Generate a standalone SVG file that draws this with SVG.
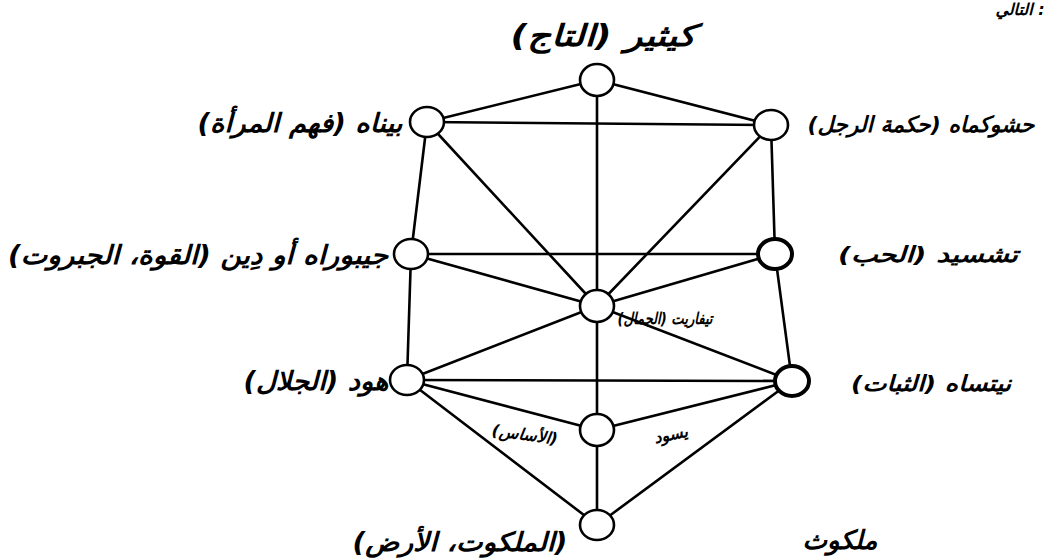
<svg xmlns="http://www.w3.org/2000/svg" width="1063" height="560" viewBox="0 0 1063 560">
<style>
.edge{stroke:#000;stroke-width:2.6;stroke-linecap:round;fill:none}
.node{fill:#fff;stroke:#000;stroke-width:2.6}
.thick{stroke-width:4}
.lbl{font-family:"DejaVu Sans",sans-serif;font-weight:bold;font-style:italic;fill:#000;text-anchor:middle}
.big{font-size:22px}
.xl{font-size:26px}
.small{font-size:16px}
</style>
<rect width="1063" height="560" fill="#fff"/>
<g id="connectors">
<line class="edge" x1="597" y1="80" x2="427" y2="122"/>
<line class="edge" x1="597" y1="80" x2="771" y2="125"/>
<line class="edge" x1="597" y1="80" x2="597" y2="306"/>
<line class="edge" x1="427" y1="122" x2="771" y2="125"/>
<line class="edge" x1="427" y1="122" x2="597" y2="306"/>
<line class="edge" x1="771" y1="125" x2="597" y2="306"/>
<line class="edge" x1="427" y1="122" x2="411" y2="254"/>
<line class="edge" x1="771" y1="125" x2="775" y2="254"/>
<line class="edge" x1="411" y1="254" x2="775" y2="254"/>
<line class="edge" x1="411" y1="254" x2="597" y2="306"/>
<line class="edge" x1="775" y1="254" x2="597" y2="306"/>
<line class="edge" x1="411" y1="254" x2="407" y2="380"/>
<line class="edge" x1="775" y1="254" x2="792" y2="381"/>
<line class="edge" x1="407" y1="380" x2="597" y2="306"/>
<line class="edge" x1="792" y1="381" x2="597" y2="306"/>
<line class="edge" x1="407" y1="380" x2="792" y2="381"/>
<line class="edge" x1="407" y1="380" x2="597" y2="430"/>
<line class="edge" x1="792" y1="381" x2="597" y2="430"/>
<line class="edge" x1="597" y1="306" x2="597" y2="430"/>
<line class="edge" x1="407" y1="380" x2="597" y2="525"/>
<line class="edge" x1="792" y1="381" x2="597" y2="525"/>
<line class="edge" x1="597" y1="430" x2="597" y2="525"/>
</g>
<g id="keter"><ellipse class="node" cx="597" cy="80" rx="17" ry="16"/><text class="lbl" style="font-size:30px" x="603" y="46" textLength="185" lengthAdjust="spacingAndGlyphs">كيثير (التاج)</text></g>
<g id="binah"><ellipse class="node" cx="427" cy="122" rx="17" ry="15"/><text class="lbl xl" x="300" y="132" textLength="205" lengthAdjust="spacingAndGlyphs">بيناه (فهم المرأة)</text></g>
<g id="chokhmah"><ellipse class="node" cx="771" cy="125" rx="17" ry="15"/><text class="lbl big" x="921" y="132">حشوكماه (حكمة الرجل)</text></g>
<g id="gevurah"><ellipse class="node" cx="411" cy="254" rx="17" ry="15"/><text class="lbl xl" x="198" y="264" textLength="380" lengthAdjust="spacingAndGlyphs">جيبوراه أو دِين (القوة، الجبروت)</text></g>
<g id="chesed"><ellipse class="node thick" cx="775" cy="254" rx="17" ry="15"/><text class="lbl big" x="928" y="262" textLength="180" lengthAdjust="spacingAndGlyphs">تشسيد (الحب)</text></g>
<g id="tiferet"><ellipse class="node" cx="597" cy="306" rx="17" ry="16"/><text class="lbl small" x="665" y="324" textLength="95" lengthAdjust="spacingAndGlyphs">تيفاريت (الجمال)</text></g>
<g id="hod"><ellipse class="node" cx="407" cy="380" rx="17" ry="15"/><text class="lbl xl" x="316" y="390" textLength="145" lengthAdjust="spacingAndGlyphs">هود (الجلال)</text></g>
<g id="netzach"><ellipse class="node thick" cx="792" cy="381" rx="17" ry="15"/><text class="lbl big" x="931" y="391" textLength="160" lengthAdjust="spacingAndGlyphs">نيتساه (الثبات)</text></g>
<g id="yesod"><ellipse class="node" cx="597" cy="430" rx="17" ry="16"/><text class="lbl small" x="524" y="440" transform="rotate(8 524 440)">(الأساس)</text><text class="lbl small" x="672" y="440" transform="rotate(-12 672 440)">يسود</text></g>
<g id="malkuth"><ellipse class="node" cx="597" cy="525" rx="17" ry="15"/><text class="lbl xl" x="460" y="551" textLength="215" lengthAdjust="spacingAndGlyphs">(الملكوت، الأرض)</text><text class="lbl xl" x="840" y="549">ملكوث</text></g>
<text class="lbl small" x="1020" y="15">التالي :</text>
</svg>
